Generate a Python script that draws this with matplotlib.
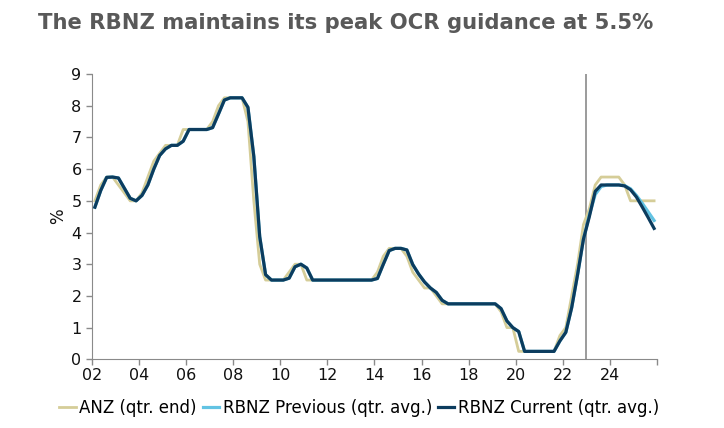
import matplotlib
matplotlib.use("Agg")
import matplotlib.pyplot as plt
import numpy as np

plt.rcParams['font.family'] = ['DejaVu Sans']

# quarters 2002 Q1 .. 2025 Q4
years = np.arange(2002, 2026)

# ANZ forecast / actual OCR at quarter end
anz = [5.0, 5.5, 5.75, 5.75,
       5.5, 5.25, 5.0, 5.0,
       5.25, 5.75, 6.25, 6.5,
       6.75, 6.75, 6.75, 7.25,
       7.25, 7.25, 7.25, 7.25,
       7.5, 8.0, 8.25, 8.25,
       8.25, 8.25, 7.5, 5.0,
       3.0, 2.5, 2.5, 2.5,
       2.5, 2.75, 3.0, 3.0,
       2.5, 2.5, 2.5, 2.5,
       2.5, 2.5, 2.5, 2.5,
       2.5, 2.5, 2.5, 2.5,
       2.75, 3.25, 3.5, 3.5,
       3.5, 3.25, 2.75, 2.5,
       2.25, 2.25, 2.0, 1.75,
       1.75, 1.75, 1.75, 1.75,
       1.75, 1.75, 1.75, 1.75,
       1.75, 1.5, 1.0, 1.0,
       0.25, 0.25, 0.25, 0.25,
       0.25, 0.25, 0.25, 0.75,
       1.0, 2.0, 3.0, 4.25,
       4.75, 5.5, 5.75, 5.75,
       5.75, 5.75, 5.5, 5.0,
       5.0, 5.0, 5.0, 5.0]

# RBNZ quarterly average OCR, history 2002 Q1 .. 2022 Q4
rbnz_hist = [4.8, 5.33, 5.74, 5.75,
             5.72, 5.4, 5.08, 5.0,
             5.17, 5.5, 6.0, 6.43,
             6.64, 6.75, 6.75, 6.88,
             7.25, 7.25, 7.25, 7.25,
             7.31, 7.74, 8.18, 8.25,
             8.25, 8.25, 7.95, 6.4,
             3.87, 2.67, 2.5, 2.5,
             2.5, 2.56, 2.92, 3.0,
             2.88, 2.5, 2.5, 2.5,
             2.5, 2.5, 2.5, 2.5,
             2.5, 2.5, 2.5, 2.5,
             2.55, 3.0, 3.43, 3.5,
             3.5, 3.45, 2.99, 2.69,
             2.44, 2.25, 2.11, 1.86,
             1.75, 1.75, 1.75, 1.75,
             1.75, 1.75, 1.75, 1.75,
             1.75, 1.6, 1.21, 1.0,
             0.875, 0.25, 0.25, 0.25,
             0.25, 0.25, 0.25, 0.58,
             0.85, 1.63, 2.67, 3.79]

# RBNZ forecasts 2023 Q1 .. 2025 Q4
rbnz_prev_fc = [4.55, 5.2, 5.45, 5.5,
                5.5, 5.5, 5.48, 5.38,
                5.17, 4.92, 4.65, 4.38]
rbnz_curr_fc = [4.5, 5.3, 5.5, 5.5,
                5.5, 5.5, 5.47, 5.35,
                5.12, 4.8, 4.47, 4.13]

forecast_start = 2023

rbnz_prev = rbnz_hist + rbnz_prev_fc
rbnz_curr = rbnz_hist + rbnz_curr_fc

# mid-quarter positions
x = np.repeat(years, 4) + np.tile([0.125, 0.375, 0.625, 0.875], len(years))

fig = plt.figure(figsize=(7.24, 4.28), dpi=100)
ax = fig.add_axes([0.127, 0.1605, 0.7805, 0.6665])

ax.plot(x, anz, color='#d5cd98', lw=2.0, label='ANZ (qtr. end)', zorder=2)
ax.plot(x, rbnz_prev, color='#62c3e3', lw=2.3, label='RBNZ Previous (qtr. avg.)', zorder=3)
ax.plot(x, rbnz_curr, color='#0c3c5e', lw=2.3, label='RBNZ Current (qtr. avg.)', zorder=4)

ax.axvline(forecast_start, color='#8a8a8a', lw=1.2, zorder=1)

ax.set_xlim(2002, 2026)
ax.set_ylim(0, 9)
xt = np.arange(2002, 2027, 2)
ax.set_xticks(xt)
ax.set_xticklabels(['%02d' % (t % 100) if t < 2026 else '' for t in xt])
ax.set_yticks(range(0, 10))

for s in ['top', 'right']:
    ax.spines[s].set_visible(False)
for s in ['left', 'bottom']:
    ax.spines[s].set_color('#8a8a8a')
ax.tick_params(axis='both', colors='#8a8a8a', labelcolor='#111111',
               labelsize=11.5, length=4, width=1)
ax.tick_params(axis='x', pad=2)
ax.set_ylabel('%', fontsize=12, color='#111111', labelpad=3)

fig.text(0.053, 0.946, 'The RBNZ maintains its peak OCR guidance at 5.5%',
         fontsize=15.2, fontweight='bold', color='#595959', va='center')

fig.legend(loc='center', bbox_to_anchor=(0.496, 0.047), ncol=3, frameon=False,
           fontsize=12, handlelength=1.0, handletextpad=0.2, columnspacing=0.35,
           borderaxespad=0, borderpad=0)

fig.savefig('out.png', dpi=100)
